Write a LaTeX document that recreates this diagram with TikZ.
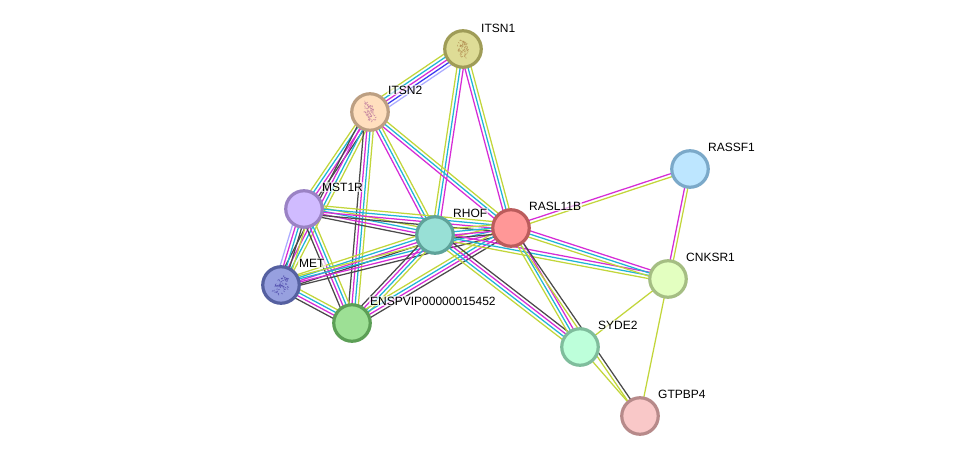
\documentclass[tikz,border=0pt]{standalone}
\usepackage{fontspec}
\setmainfont{Liberation Sans}
\usetikzlibrary{calc,backgrounds}
\definecolor{eY}{HTML}{C2D63A}
\definecolor{eC}{HTML}{1FB5D6}
\definecolor{eM}{HTML}{D62BD6}
\definecolor{eK}{HTML}{4A4A4A}
\definecolor{eB}{HTML}{3A3AF0}
\definecolor{eV}{HTML}{ABABFF}
\definecolor{itsnAd}{HTML}{9F9C57}\definecolor{itsnAf}{HTML}{DEDC96}
\definecolor{itsnBd}{HTML}{BC9F82}\definecolor{itsnBf}{HTML}{FFDFBE}
\definecolor{rassd}{HTML}{7BA9C9}\definecolor{rassf}{HTML}{BDE6FF}
\definecolor{mstd}{HTML}{9A82C4}\definecolor{mstf}{HTML}{D0BBFF}
\definecolor{rhofd}{HTML}{5FA39A}\definecolor{rhoff}{HTML}{98E0D6}
\definecolor{rasld}{HTML}{BB5C5C}\definecolor{raslf}{HTML}{FF9797}
\definecolor{cnkd}{HTML}{A5BE83}\definecolor{cnkf}{HTML}{E3FFC0}
\definecolor{metd}{HTML}{5560A0}\definecolor{metf}{HTML}{97A0DF}
\definecolor{enspd}{HTML}{5C9F56}\definecolor{enspf}{HTML}{9DE095}
\definecolor{syded}{HTML}{7FBD9C}\definecolor{sydef}{HTML}{BDFFDA}
\definecolor{gtpd}{HTML}{B78A8A}\definecolor{gtpf}{HTML}{F9C8C8}
\definecolor{foldA}{HTML}{B08A4E}\definecolor{foldB}{HTML}{B8709A}\definecolor{foldC}{HTML}{4A45A8}
\newcount\bundlesize
% A bundle of parallel coloured lines between two proteins
\newcommand{\bundle}[3]{%
  \global\bundlesize=0
  \foreach \c in {#3}{\global\advance\bundlesize by 1}
  \foreach \c [count=\i] in {#3}{
    \pgfmathsetmacro\off{(\i-1-(\the\bundlesize-1)/2)*3.2}
    \draw[edgeline,\c] ($(#1.center)!\off pt!90:(#2.center)$) -- ($(#2.center)!\off pt!-90:(#1.center)$);
  }%
}
% A speckled protein fold inside a node: colour, half length, half width, tilt, strokes
\newcommand{\speckle}[6]{%
  \begin{scope}[shift={(#1.center)},rotate=#5,line cap=round]
    \pgfmathsetseed{#6}
    \foreach \k in {1,...,60}{
      \pgfmathsetmacro\ang{360*rnd}
      \pgfmathsetmacro\rad{sqrt(rnd)}
      \pgfmathsetmacro\tilt{360*rnd}
      \draw[#2,line width=.55pt,opacity=.75] ({\rad*#3*cos(\ang)},{\rad*#4*sin(\ang)}) -- ++(\tilt:1.5pt);
    }
  \end{scope}%
}
\tikzset{
  edgeline/.style={line width=1.25pt},
  protein/.style 2 args={circle,minimum size=36.5pt,inner sep=0pt,line width=3.2pt,draw=#1,fill=#2},
  tag/.style={anchor=west,font=\fontsize{12}{14}\selectfont,text=black,inner sep=1pt,fill=white,fill opacity=.65,text opacity=1}
}
\begin{document}
\begin{tikzpicture}[x=1pt,y=-1pt]
\useasboundingbox (0,0) rectangle (975,461);

% Proteins
\node[protein={itsnAd}{itsnAf}] (itsnA) at (463,49) {};
\node[protein={itsnBd}{itsnBf}] (itsnB) at (370,112) {};
\node[protein={rassd}{rassf}] (rass) at (690,169) {};
\node[protein={mstd}{mstf}] (mst) at (304,209) {};
\node[protein={rhofd}{rhoff}] (rhof) at (435,235) {};
\node[protein={rasld}{raslf}] (rasl) at (511,228) {};
\node[protein={cnkd}{cnkf}] (cnk) at (668,279) {};
\node[protein={metd}{metf}] (met) at (281,285) {};
\node[protein={enspd}{enspf}] (ensp) at (352,323) {};
\node[protein={syded}{sydef}] (syde) at (580,347) {};
\node[protein={gtpd}{gtpf}] (gtp) at (640,416) {};

\speckle{itsnA}{foldA}{10}{5}{100}{7}
\speckle{itsnB}{foldB}{11}{5}{115}{11}
\speckle{met}{foldC}{10}{7}{50}{23}

% Interaction evidence
\begin{scope}[on background layer]
\fill[white] (0,0) rectangle (975,461);
\bundle{itsnA}{itsnB}{eY,eC,eM,eB,eV}
\bundle{itsnA}{rhof}{eY,eC,eM}
\bundle{itsnA}{rasl}{eM,eC,eY}
\bundle{itsnB}{rhof}{eM,eC,eY}
\bundle{itsnB}{rasl}{eM,eC,eY}
\bundle{itsnB}{mst}{eY,eC,eM,eK}
\bundle{itsnB}{met}{eK,eM,eC,eY}
\bundle{itsnB}{ensp}{eK,eM,eC,eY}
\bundle{mst}{rhof}{eK,eM,eC,eY}
\bundle{mst}{rasl}{eK,eM,eC,eY}
\bundle{mst}{met}{eV,eM,eC,eK,eY}
\bundle{mst}{ensp}{eK,eM,eC,eY}
\bundle{met}{rhof}{eK,eM,eC,eY}
\bundle{met}{rasl}{eK,eM,eC,eY}
\bundle{met}{ensp}{eK,eM,eC,eY}
\bundle{rhof}{ensp}{eK,eM,eC,eY}
\bundle{rasl}{ensp}{eY,eC,eM,eK}
\bundle{rhof}{rasl}{eK,eM,eC,eY}
\bundle{rhof}{cnk}{eY,eC,eM}
\bundle{rasl}{cnk}{eY,eC,eM}
\bundle{rhof}{syde}{eY,eC,eM,eK}
\bundle{rasl}{syde}{eY,eC,eM}
\bundle{rasl}{gtp}{eY,eK}
\bundle{rass}{rasl}{eM,eY}
\bundle{rass}{cnk}{eM,eY}
\bundle{cnk}{syde}{eY}
\bundle{cnk}{gtp}{eY}
\bundle{syde}{gtp}{eY}
\end{scope}

% Protein names
\node[tag] (tA) at ($(itsnA.center)+(17,-21)$) {ITSN1};
\node[tag] (tB) at ($(itsnB.center)+(17,-22)$) {ITSN2};
\node[tag] (tC) at ($(rass.center)+(17,-22)$) {RASSF1};
\node[tag] (tD) at ($(mst.center)+(17,-22)$) {MST1R};
\node[tag] (tE) at ($(rhof.center)+(17,-22)$) {RHOF};
\node[tag] (tF) at ($(rasl.center)+(17,-22)$) {RASL11B};
\node[tag] (tG) at ($(cnk.center)+(17,-22)$) {CNKSR1};
\node[tag] (tH) at ($(met.center)+(17,-22)$) {MET};
\node[tag] (tI) at ($(ensp.center)+(17,-22)$) {ENSPVIP00000015452};
\node[tag] (tJ) at ($(syde.center)+(17,-22)$) {SYDE2};
\node[tag] (tK) at ($(gtp.center)+(17,-22)$) {GTPBP4};
\end{tikzpicture}
\end{document}
